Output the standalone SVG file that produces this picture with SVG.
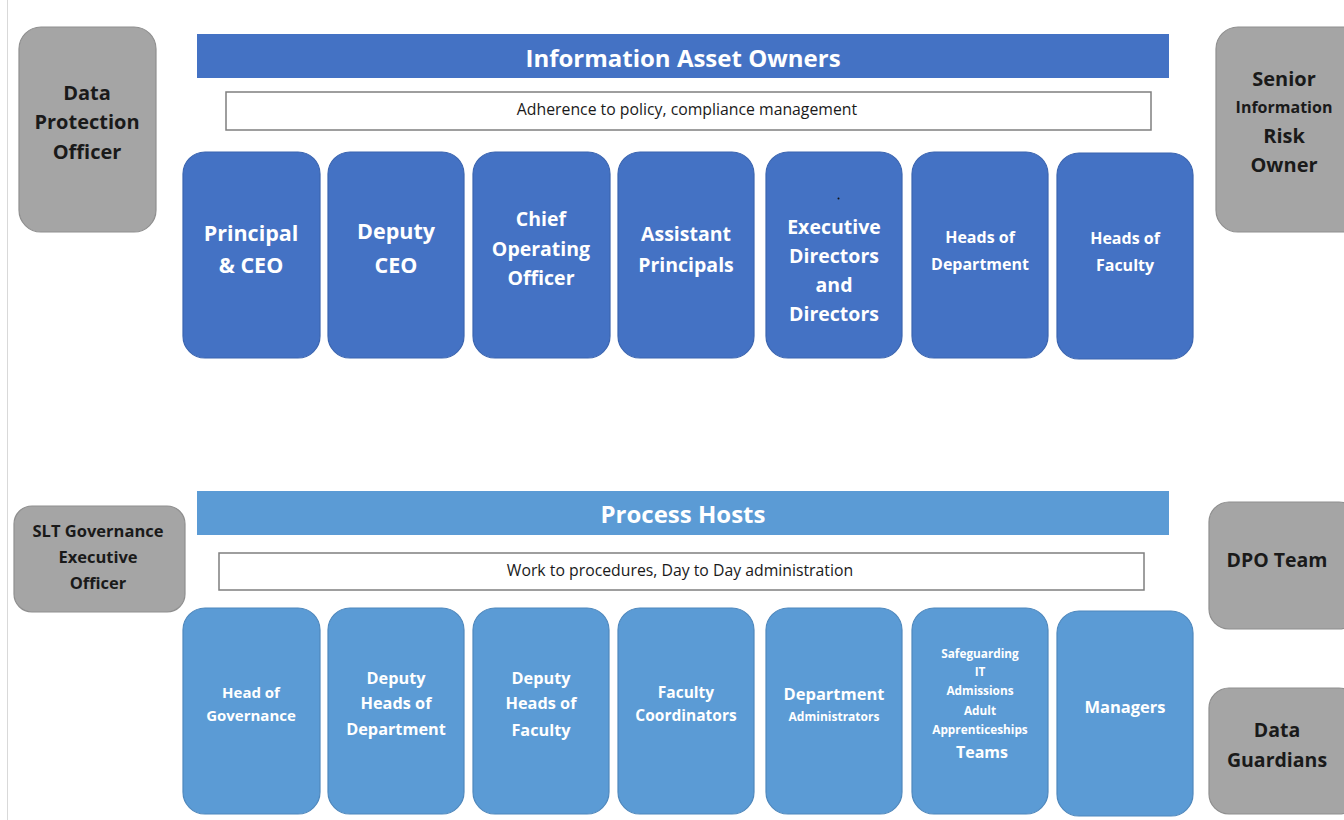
<svg xmlns="http://www.w3.org/2000/svg" width="1344" height="820" viewBox="0 0 1344 820">
<style>
text{font-family:"Open Sans","Noto Sans",sans-serif;font-weight:bold;text-anchor:middle}
.g{fill:#a5a5a5;stroke:#8f8f8f;stroke-width:1.2}
.b1{fill:#4472c4;stroke:#3b65b0;stroke-width:1.2}
.b2{fill:#5b9bd5;stroke:#4f88bd;stroke-width:1.2}
.w{fill:#fff;stroke:#7f7f7f;stroke-width:1.5}
.wt{fill:#fff}
.dk{fill:#1a1a1a}
.nt{font-weight:normal;fill:#1a1a1a;font-size:15.8px}
</style>
<rect x="0" y="0" width="1344" height="820" fill="#fff"/>
<line x1="7.5" y1="0" x2="7.5" y2="820" stroke="#d9d9d9" stroke-width="1"/>

<g id="dpo"><rect class="g" x="19" y="27" width="137" height="205" rx="22"/>
<text class="dk" font-size="20" x="87" y="100">Data</text><text class="dk" font-size="20" x="87" y="129">Protection</text><text class="dk" font-size="20" x="87" y="159">Officer</text></g>

<g id="iao-banner"><rect x="197" y="34" width="972" height="44" fill="#4472c4"/>
<text class="wt" font-size="24" x="683" y="67">Information Asset Owners</text></g>
<g id="iao-desc"><rect class="w" x="226" y="92" width="925" height="38"/>
<text class="nt" x="687" y="115">Adherence to policy, compliance management</text></g>

<g id="siro"><rect class="g" x="1216" y="27" width="150" height="205" rx="22"/>
<text class="dk" font-size="20" x="1284" y="86">Senior</text><text class="dk" font-size="16" x="1284" y="113">Information</text><text class="dk" font-size="20" x="1284" y="143">Risk</text><text class="dk" font-size="20" x="1284" y="172">Owner</text></g>

<g id="principal"><rect class="b1" x="183" y="152" width="137" height="206" rx="22"/>
<text class="wt" font-size="21.5" x="251" y="241">Principal</text><text class="wt" font-size="21.5" x="251" y="273">&amp; CEO</text></g>
<g id="deputy-ceo"><rect class="b1" x="328" y="152" width="136" height="206" rx="22"/>
<text class="wt" font-size="21.5" x="396" y="239">Deputy</text><text class="wt" font-size="21.5" x="396" y="273">CEO</text></g>
<g id="coo"><rect class="b1" x="473" y="152" width="137" height="206" rx="22"/>
<text class="wt" font-size="19.5" x="541" y="226">Chief</text><text class="wt" font-size="19.5" x="541" y="256">Operating</text><text class="wt" font-size="19.5" x="541" y="285">Officer</text></g>
<g id="assistant-principals"><rect class="b1" x="618" y="152" width="136" height="206" rx="22"/>
<text class="wt" font-size="19.5" x="686" y="241">Assistant</text><text class="wt" font-size="19.5" x="686" y="272">Principals</text></g>
<g id="exec-directors"><rect class="b1" x="766" y="152" width="136" height="206" rx="22"/>
<circle cx="838.5" cy="198.5" r="1" fill="#111"/>
<text class="wt" font-size="19.5" x="834" y="234">Executive</text><text class="wt" font-size="19.5" x="834" y="263">Directors</text><text class="wt" font-size="19.5" x="834" y="292">and</text><text class="wt" font-size="19.5" x="834" y="321">Directors</text></g>
<g id="heads-dept"><rect class="b1" x="912" y="152" width="136" height="206" rx="22"/>
<text class="wt" font-size="16" x="980" y="243">Heads of</text><text class="wt" font-size="16" x="980" y="270">Department</text></g>
<g id="heads-faculty"><rect class="b1" x="1057" y="153" width="136" height="206" rx="22"/>
<text class="wt" font-size="16" x="1125" y="244">Heads of</text><text class="wt" font-size="16" x="1125" y="271">Faculty</text></g>

<g id="slt"><rect class="g" x="14" y="506" width="171" height="106" rx="18"/>
<text class="dk" font-size="16.5" x="98" y="537">SLT Governance</text><text class="dk" font-size="16.5" x="98" y="563">Executive</text><text class="dk" font-size="16.5" x="98" y="589">Officer</text></g>

<g id="ph-banner"><rect x="197" y="491" width="972" height="44" fill="#5b9bd5"/>
<text class="wt" font-size="24" x="683" y="523">Process Hosts</text></g>
<g id="ph-desc"><rect class="w" x="219" y="553" width="925" height="37"/>
<text class="nt" x="680" y="576">Work to procedures, Day to Day administration</text></g>

<g id="dpo-team"><rect class="g" x="1209" y="502" width="150" height="127" rx="20"/>
<text class="dk" font-size="19.5" x="1277" y="567">DPO Team</text></g>
<g id="data-guardians"><rect class="g" x="1209" y="688" width="150" height="126" rx="20"/>
<text class="dk" font-size="19.5" x="1277" y="737">Data</text><text class="dk" font-size="19.5" x="1277" y="767">Guardians</text></g>

<g id="head-governance"><rect class="b2" x="183" y="608" width="137" height="206" rx="22"/>
<text class="wt" font-size="15" x="251" y="698">Head of</text><text class="wt" font-size="15" x="251" y="721">Governance</text></g>
<g id="deputy-hod"><rect class="b2" x="328" y="608" width="136" height="206" rx="22"/>
<text class="wt" font-size="16.3" x="396" y="684">Deputy</text><text class="wt" font-size="16.3" x="396" y="709">Heads of</text><text class="wt" font-size="16.3" x="396" y="735">Department</text></g>
<g id="deputy-hof"><rect class="b2" x="473" y="608" width="136" height="206" rx="22"/>
<text class="wt" font-size="16.3" x="541" y="684">Deputy</text><text class="wt" font-size="16.3" x="541" y="709">Heads of</text><text class="wt" font-size="16.3" x="541" y="736">Faculty</text></g>
<g id="faculty-coord"><rect class="b2" x="618" y="608" width="136" height="206" rx="22"/>
<text class="wt" font-size="15.5" x="686" y="698">Faculty</text><text class="wt" font-size="15.5" x="686" y="721">Coordinators</text></g>
<g id="dept-admin"><rect class="b2" x="766" y="608" width="136" height="206" rx="22"/>
<text class="wt" font-size="16.5" x="834" y="700">Department</text><text class="wt" font-size="12" x="834" y="721">Administrators</text></g>
<g id="teams"><rect class="b2" x="912" y="608" width="136" height="206" rx="22"/>
<text class="wt" font-size="11.8" x="980" y="658">Safeguarding</text><text class="wt" font-size="11.8" x="980" y="676">IT</text><text class="wt" font-size="11.8" x="980" y="695">Admissions</text><text class="wt" font-size="11.8" x="980" y="715">Adult</text><text class="wt" font-size="11.8" x="980" y="734">Apprenticeships</text><text class="wt" font-size="16" x="982" y="758">Teams</text></g>
<g id="managers"><rect class="b2" x="1057" y="611" width="136" height="205" rx="22"/>
<text class="wt" font-size="16.5" x="1125" y="713">Managers</text></g>
<g id="connectors"></g>
</svg>
